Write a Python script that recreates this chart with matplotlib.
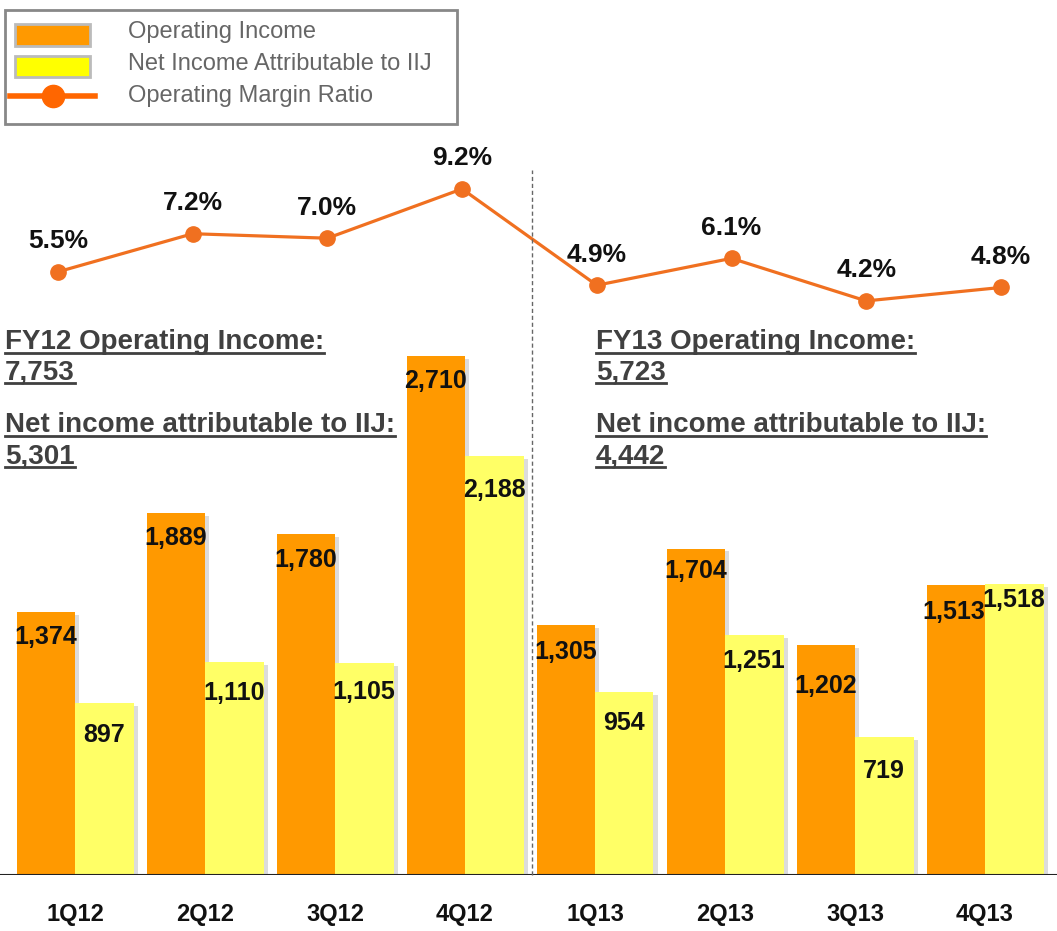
#!/usr/bin/env python3
import matplotlib
matplotlib.use('Agg')
import matplotlib.pyplot as plt
import matplotlib.patheffects as pe
from matplotlib.patches import Rectangle
from matplotlib.lines import Line2D
import numpy as np

quarters = ['1Q12', '2Q12', '3Q12', '4Q12', '1Q13', '2Q13', '3Q13', '4Q13']
op_income = [1374, 1889, 1780, 2710, 1305, 1704, 1202, 1513]
net_income = [897, 1110, 1105, 2188, 954, 1251, 719, 1518]
op_margin = [5.5, 7.2, 7.0, 9.2, 4.9, 6.1, 4.2, 4.8]

fy_notes = [
    ['FY12 Operating Income:', '7,753', 'Net income attributable to IIJ:', '5,301'],
    ['FY13 Operating Income:', '5,723', 'Net income attributable to IIJ:', '4,442'],
]

ORANGE = '#FF9900'
YELLOW = '#FFFF66'
LINEC = '#F07020'
W, H = 1057, 931

plt.rcParams['font.family'] = ['Liberation Sans', 'DejaVu Sans']

fig = plt.figure(figsize=(W / 100, H / 100), dpi=100)

# bar axes: baseline at y=875px from top
ax = fig.add_axes([0, 56 / H, 1, 875 / H])
ax.set_xlim(-75 / 130, (W - 75) / 130)
ax.set_ylim(0, 875 / 0.1915)
ax.axis('off')

x = np.arange(len(quarters))
bw = 0.45
shadow = [pe.SimplePatchShadow(offset=(3, -2), alpha=0.22, shadow_rgbFace='#606060'), pe.Normal()]
ax.bar(x - bw / 2, op_income, bw, color=ORANGE, path_effects=shadow, zorder=2)
ax.bar(x + bw / 2, net_income, bw, color=YELLOW, path_effects=shadow, zorder=2)

op_dy = [-25, -25, -26, -25, -27, -22, -41, -27]
net_dy = [-32, -31, -29, -34, -31, -26, -34, -16]
op_dx = [0, 0, 0, 0, 0, 0, 0, -2]
for i in range(len(quarters)):
    ax.annotate(f'{op_income[i]:,}', (x[i] - bw / 2, op_income[i]),
                xytext=(op_dx[i] * 0.72, op_dy[i] * 0.72),
                textcoords='offset points', ha='center', va='center', fontsize=18,
                fontweight='bold', color='#111111', zorder=4)
    ax.annotate(f'{net_income[i]:,}', (x[i] + bw / 2, net_income[i]), xytext=(0, net_dy[i] * 0.72),
                textcoords='offset points', ha='center', va='center', fontsize=18,
                fontweight='bold', color='#111111', zorder=4)
    ax.annotate(quarters[i], (x[i], 0), xytext=(0, -40 * 0.72), textcoords='offset points',
                ha='center', va='center', fontsize=17, fontweight='bold', color='#111111')

ax.axhline(0, color='#222222', lw=1.5, zorder=3)

# line axes overlay
ax2 = fig.add_axes([0, 0, 1, 1])
ax2.set_xlim(-58 / 134.7, (W - 58) / 134.7)
ax2.set_ylim((395 - H) / 22.4, 395 / 22.4)
ax2.axis('off')
ax2.plot(x, op_margin, color=LINEC, lw=2.3, marker='o', markersize=11, zorder=3)
for i, v in enumerate(op_margin):
    ax2.annotate(f'{v}%', (x[i], v), xytext=(0, 22), textcoords='offset points',
                 ha='center', va='center', fontsize=19, fontweight='bold', color='#111111')

# divider between fiscal years
fig.add_artist(Line2D([532 / W, 532 / W], [(H - 875) / H, (H - 170) / H],
                      color='#666666', lw=1, ls=(0, (3, 2))))

# fiscal year notes, underlined
fig.canvas.draw()
r = fig.canvas.get_renderer()
for xs, note in zip([5, 596], fy_notes):
    for yb, s in zip([349, 379, 432, 463], note):
        t = fig.text(xs / W, (H - yb) / H, s, ha='left', va='baseline', fontsize=20,
                     fontweight='bold', color='#404040')
        bb = t.get_window_extent(r)
        uy = (H - yb - 4) / H
        fig.add_artist(Line2D([bb.x0 / W, bb.x1 / W], [uy, uy], color='#404040', lw=2))

# legend box
fig.add_artist(Rectangle((5 / W, (H - 124) / H), 452 / W, 114 / H, fill=False,
                         ec='#888888', lw=2))
fig.add_artist(Rectangle((15 / W, (H - 46) / H), 75 / W, 22 / H, fc=ORANGE,
                         ec='#BBBBBB', lw=2))
fig.add_artist(Rectangle((15 / W, (H - 77) / H), 75 / W, 21 / H, fc='#FFFF00',
                         ec='#BBBBBB', lw=2))
fig.add_artist(Line2D([10 / W, 95 / W], [(H - 96) / H] * 2, color='#FF6600', lw=4))
fig.add_artist(Line2D([53 / W], [(H - 96) / H], color='#FF6600', marker='o', markersize=16))
for yy, s in zip([32, 64, 96], ['Operating Income', 'Net Income Attributable to IIJ',
                                'Operating Margin Ratio']):
    fig.text(128 / W, (H - yy) / H, s, ha='left', va='center', fontsize=17, color='#666666')

fig.savefig('out.png', dpi=100)
